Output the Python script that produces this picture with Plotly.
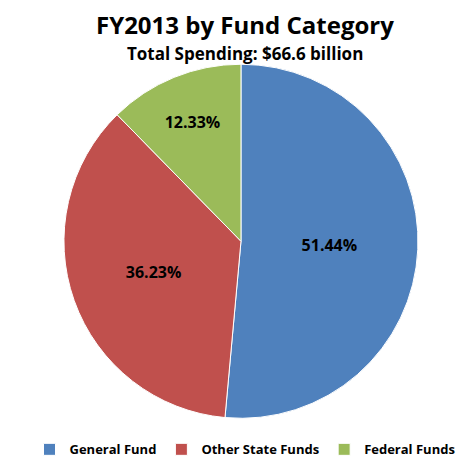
import plotly.graph_objects as go

categories = ["General Fund", "Other State Funds", "Federal Funds"]
values = [51.44, 36.23, 12.33]
colors = ["#4F81BD", "#C0504D", "#9BBB59"]

fig = go.Figure(go.Pie(
    labels=categories, values=values, sort=False, direction="clockwise", rotation=0,
    marker=dict(colors=colors, line=dict(color="white", width=1)),
    texttemplate="%{percent:.2%}", textposition="inside", insidetextorientation="horizontal",
    textfont=dict(family="Open Sans", size=16, color="black", weight="bold"),
    domain=dict(x=[0.118, 0.865], y=[0.110, 0.878]),
    hoverinfo="label+percent",
))
fig.update_layout(
    width=474, height=461, margin=dict(l=0, r=0, t=0, b=0),
    paper_bgcolor="white", plot_bgcolor="white",
    font=dict(family="Open Sans", color="black"),
    legend=dict(orientation="h", x=0.5, xanchor="center", y=0.01, yanchor="bottom",
                font=dict(size=13, weight="bold"), traceorder="normal",
                itemwidth=30, entrywidthmode="pixels"),
    annotations=[
        dict(text="<b>FY2013 by Fund Category</b>", x=0.5, y=1.005, xref="paper", yref="paper",
             xanchor="center", yanchor="top", showarrow=False, font=dict(size=24)),
        dict(text="<b>Total Spending: $66.6 billion</b>", x=0.5, y=0.93, xref="paper", yref="paper",
             xanchor="center", yanchor="top", showarrow=False, font=dict(size=17)),
    ],
)
fig.write_html("out.html")
